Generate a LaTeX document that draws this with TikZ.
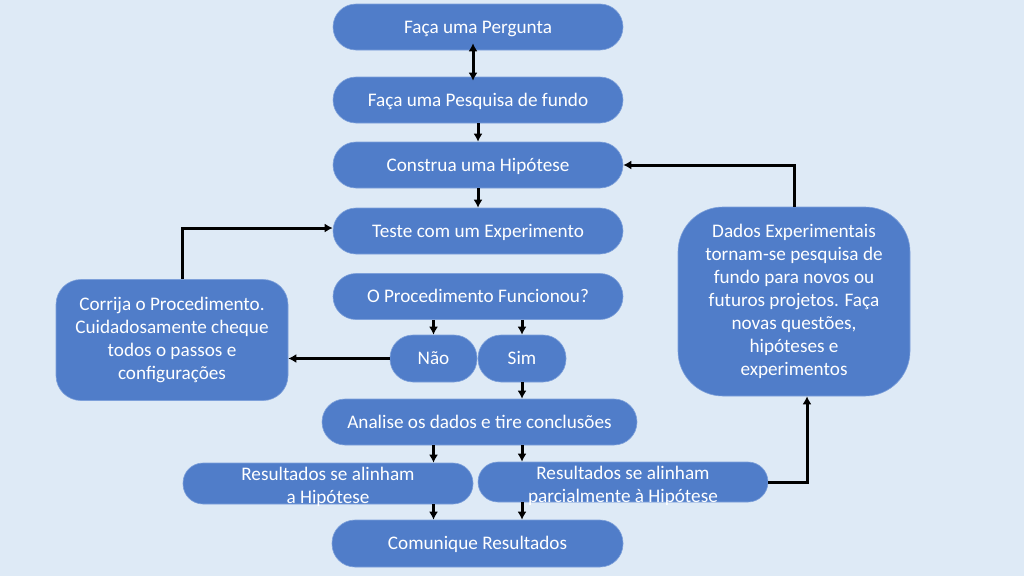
\documentclass[tikz,border=0pt]{standalone}
\usepackage{fontspec}
\setmainfont{Carlito}
\usepackage{tikz}
\usetikzlibrary{arrows.meta}

\definecolor{bgblue}{RGB}{222,234,246}
\definecolor{boxblue}{RGB}{80,125,201}
\definecolor{edgeblue}{RGB}{125,160,218}

\newcommand{\twolines}[2]{\smash{\raisebox{-9.5pt}{\begin{tabular}{@{}c@{}}#1\\#2\end{tabular}}}}

\tikzset{
	box/.style={rectangle, rounded corners=23pt, fill=boxblue, draw=edgeblue, line width=0.6pt,
		text=white, minimum width=290pt, minimum height=46pt, inner sep=0pt, align=center,
		font=\fontsize{19.2}{23}\selectfont},
	pill/.style={box, text height=16pt, text depth=4pt},
	link/.style={->, line width=3pt, black}
}

\begin{document}
\begin{tikzpicture}[x=1pt, y=-1pt, >={Latex[length=8pt,width=9pt]}]
			% Background
			\fill[bgblue] (0,0) rectangle (1024,576);
			\useasboundingbox (0,0) rectangle (1024,576);
			
			% Main column
			\node[pill] (pergunta) at (478,27) {Faça uma Pergunta};
			\node[pill] (pesquisa) at (478,100) {Faça uma Pesquisa de fundo};
			\node[pill] (hipotese) at (478,165) {Construa uma Hipótese};
			\node[pill] (teste) at (478,231) {Teste com um Experimento};
			\node[pill] (proc) at (478,296.5) {O Procedimento Funcionou?};
			\node[pill, minimum width=87pt, minimum height=47pt] (nao) at (433.5,358.5) {Não};
			\node[pill, minimum width=88pt, minimum height=47pt] (sim) at (522,358.5) {Sim};
			\node[pill, minimum width=315pt] (analise) at (479.5,422) {Analise os dados e tire conclusões};
			\node[box, rounded corners=20pt, minimum height=41pt] (res1) at (328,483.5)
				{\twolines{Resultados se alinham}{a Hipótese}};
			\node[box, rounded corners=20pt, minimum height=40pt] (res2) at (623,482)
				{\twolines{Resultados se alinham}{parcialmente à Hipótese}};
			\node[pill, minimum width=291pt, minimum height=47pt] (comunique) at (477.5,543.5) {Comunique Resultados};
			
			% Side boxes
			\node[box, rounded corners=25pt, minimum width=232pt, minimum height=121pt] (corrija) at (172,340)
				{Corrija o Procedimento.\\Cuidadosamente cheque\\todos o passos e\\configurações};
			\node[box, rounded corners=45pt, minimum width=232pt, minimum height=189pt] (dados) at (794,301.5)
				{Dados Experimentais\\tornam-se pesquisa de\\fundo para novos ou\\futuros projetos. Faça\\novas questões,\\hipóteses e\\experimentos};
			
			% Arrows
			\draw[link, <->] ([xshift=-5pt, yshift=7pt]pergunta.south) -- ([xshift=-5pt, yshift=-4pt]pesquisa.north);
			\draw[link] (pesquisa) -- (hipotese);
			\draw[link] (hipotese) -- (teste);
			\draw[link] (proc.south -| nao) -- (nao.north);
			\draw[link] (proc.south -| sim) -- (sim.north);
			\draw[link] (nao.west) -- (corrija.east |- nao.west);
			\draw[link] ([xshift=10pt]corrija.north) |- ([yshift=3pt]teste.west);
			\draw[link] (sim.south) -- (analise.north -| sim);
			\draw[link] (analise.south -| nao) -- (res1.north -| nao);
			\draw[link] (analise.south -| sim) -- (res2.north -| sim);
			\draw[link] (res1.south -| nao) -- (comunique.north -| nao);
			\draw[link] (res2.south -| sim) -- (comunique.north -| sim);
			\draw[link] (res2.east) -| ([xshift=13pt]dados.south);
			\draw[link] (dados.north) |- (hipotese.east);
		\end{tikzpicture}
\end{document}
